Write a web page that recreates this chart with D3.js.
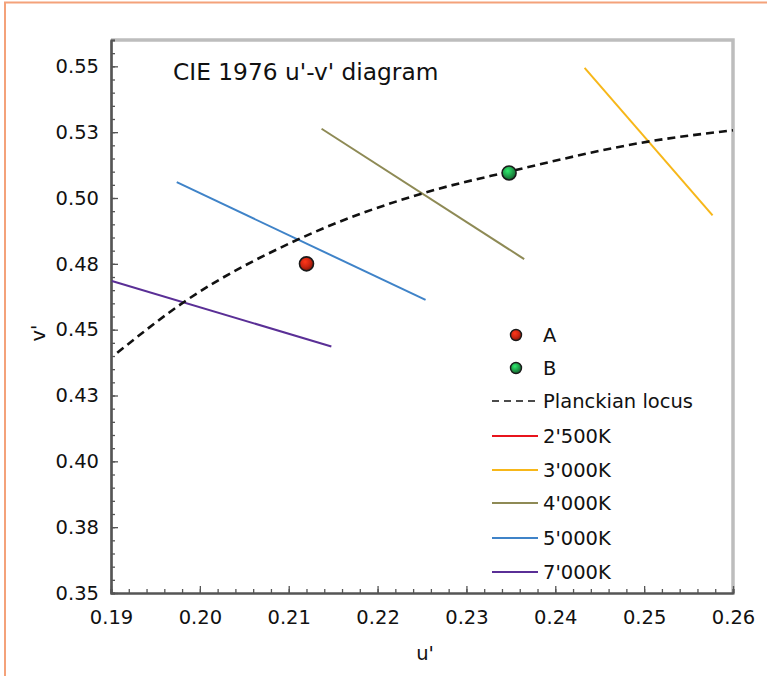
<!DOCTYPE html>
<html><head><meta charset="utf-8">
<script src="https://cdn.jsdelivr.net/npm/d3@7"></script>
<style>
html,body{margin:0;padding:0;background:#fff;}
svg{display:block;}
text{font-family:"DejaVu Sans",Verdana,sans-serif;fill:#111;}
</style></head>
<body>
<svg id="c" width="767" height="676"></svg>
<script>
// ---- data ----
const xTicks = [0.19, 0.20, 0.21, 0.22, 0.23, 0.24, 0.25, 0.26];
const xTickLabels = ["0.19", "0.20", "0.21", "0.22", "0.23", "0.24", "0.25", "0.26"];
const yTicks = [0.35, 0.375, 0.40, 0.425, 0.45, 0.475, 0.50, 0.525, 0.55];
const yTickLabels = ["0.35", "0.38", "0.40", "0.43", "0.45", "0.48", "0.50", "0.53", "0.55"];

const planckU = [0.1907, 0.1983, 0.2114, 0.2252, 0.2348, 0.2506, 0.2600];
const planckV = [0.4412, 0.4607, 0.4848, 0.5019, 0.5100, 0.5215, 0.5257];

const isoNames = ["2'500K", "3'000K", "4'000K", "5'000K", "7'000K"];
const isoColors = ["#e8141c", "#f7b719", "#8e8a55", "#3f83c8", "#5a2f96"];
const isoU = [[], [0.2433, 0.2577], [0.2137, 0.2365], [0.1974, 0.2254], [0.1901, 0.2148]];
const isoV = [[], [0.5494, 0.4934], [0.5263, 0.4768], [0.5060, 0.4613], [0.4685, 0.4436]];

const pointNames = ["A", "B"];
const pointU = [0.2120, 0.2348];
const pointV = [0.4750, 0.5095];
const pointColors = ["#c82410", "#1f9a48"];

// ---- layout ----
const svg = d3.select("#c");
const L = 111, R = 733, T = 40, B = 593;
const x = d3.scaleLinear().domain([0.19, 0.26]).range([L, R]);
const y = d3.scaleLinear().domain([0.35, 0.56]).range([B, T]);

// outer orange frame
svg.append("rect").attr("x", 5).attr("y", 2.5).attr("width", 800).attr("height", 700)
  .attr("fill", "none").attr("stroke", "#f4a27a").attr("stroke-width", 2);

// gradients for points
const defs = svg.append("defs");
pointColors.forEach((c, i) => {
  const g = defs.append("radialGradient").attr("id", "g" + i)
    .attr("cx", "40%").attr("cy", "35%").attr("r", "65%");
  g.append("stop").attr("offset", "0%").attr("stop-color", d3.color(c).brighter(1.2));
  g.append("stop").attr("offset", "60%").attr("stop-color", c);
  g.append("stop").attr("offset", "100%").attr("stop-color", d3.color(c).darker(1.2));
});

// top/right light frame
svg.append("path").attr("d", `M${L},${T} H${R} V${B}`)
  .attr("fill", "none").attr("stroke", "#bdbdbd").attr("stroke-width", 3.5);

// minor ticks
const xMinor = d3.range(0, 36).map(i => 0.19 + i * 0.002);
const yMinor = d3.range(0, 43).map(i => 0.35 + i * 0.005);

const axX = svg.append("g").attr("transform", `translate(0,${B})`);
axX.call(d3.axisBottom(x).tickValues(xMinor).tickSize(-4).tickFormat(""));
const axXMaj = svg.append("g").attr("transform", `translate(0,${B})`);
axXMaj.call(d3.axisBottom(x).tickValues(xTicks).tickSizeInner(-7).tickSizeOuter(0).tickPadding(15)
  .tickFormat((d, i) => xTickLabels[i]));

const axY = svg.append("g").attr("transform", `translate(${L},0)`);
axY.call(d3.axisLeft(y).tickValues(yMinor).tickSize(-4).tickFormat(""));
const axYMaj = svg.append("g").attr("transform", `translate(${L},0)`);
axYMaj.call(d3.axisLeft(y).tickValues(yTicks).tickSizeInner(-7).tickSizeOuter(0).tickPadding(12)
  .tickFormat((d, i) => yTickLabels[i]));

svg.selectAll(".domain").attr("stroke", "#555").attr("stroke-width", 2.2);
svg.selectAll(".tick line").attr("stroke", "#555").attr("stroke-width", 1.3);
svg.selectAll(".tick text").style("font-size", "19.5px").attr("fill", "#111");
axXMaj.selectAll(".tick text").attr("dy", "0.71em").attr("y", 17);

// isotherm lines
const line = d3.line().x(d => x(d[0])).y(d => y(d[1]));
isoNames.forEach((n, i) => {
  const pts = isoU[i].map((u, j) => [u, isoV[i][j]]);
  if (pts.length) svg.append("path").attr("d", line(pts)).attr("fill", "none")
    .attr("stroke", isoColors[i]).attr("stroke-width", 2);
});

// planckian locus
const pl = planckU.map((u, j) => [u, planckV[j]]);
svg.append("path").attr("d", line.curve(d3.curveMonotoneX)(pl)).attr("fill", "none")
  .attr("stroke", "#111").attr("stroke-width", 2.6).attr("stroke-dasharray", "8,5");

// points
pointNames.forEach((n, i) => {
  svg.append("circle").attr("cx", x(pointU[i])).attr("cy", y(pointV[i])).attr("r", 7)
    .attr("fill", `url(#g${i})`).attr("stroke", "#1a1a1a").attr("stroke-width", 1.6);
});

// title
svg.append("text").attr("x", 173).attr("y", 80).text("CIE 1976 u'-v' diagram").style("font-size", "23.3px");

// axis labels
svg.append("text").attr("x", 425).attr("y", 660).attr("text-anchor", "middle").text("u'").style("font-size", "19.5px");
svg.append("text").attr("transform", "translate(45,333) rotate(-90)").attr("text-anchor", "middle")
  .text("v'").style("font-size", "19.5px");

// legend
const lg = svg.append("g");
const lx0 = 492, lx1 = 538, tx = 543;
const rows = [335, 368, 401, 436, 470, 503, 538, 572];
pointNames.forEach((n, i) => {
  lg.append("circle").attr("cx", 516).attr("cy", rows[i]).attr("r", 5.5)
    .attr("fill", `url(#g${i})`).attr("stroke", "#1a1a1a").attr("stroke-width", 1.4);
  lg.append("text").attr("x", tx).attr("y", rows[i]).attr("dy", "0.36em").text(n).style("font-size", "19.5px");
});
lg.append("line").attr("x1", lx0).attr("x2", 535).attr("y1", rows[2]).attr("y2", rows[2])
  .attr("stroke", "#111").attr("stroke-width", 1.6).attr("stroke-dasharray", "7,5");
lg.append("text").attr("x", tx).attr("y", rows[2]).attr("dy", "0.36em").text("Planckian locus").style("font-size", "19.5px");
isoNames.forEach((n, i) => {
  const yy = rows[3 + i];
  lg.append("line").attr("x1", lx0).attr("x2", lx1).attr("y1", yy).attr("y2", yy)
    .attr("stroke", isoColors[i]).attr("stroke-width", 2);
  lg.append("text").attr("x", tx).attr("y", yy).attr("dy", "0.36em").text(n).style("font-size", "19.5px");
});
</script>
</body></html>
